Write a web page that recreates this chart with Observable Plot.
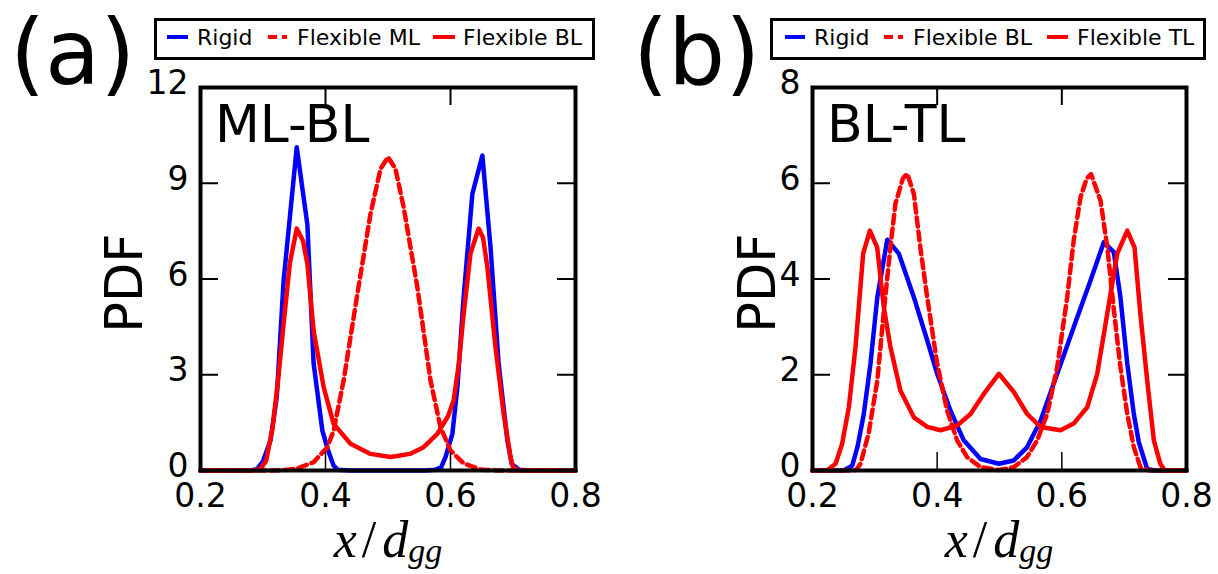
<!DOCTYPE html>
<html><head><meta charset="utf-8">
<script src="https://cdn.jsdelivr.net/npm/d3@7"></script>
<script src="https://cdn.jsdelivr.net/npm/@observablehq/plot@0.6"></script>
<style>
html,body{margin:0;padding:0;background:#fff;}
#root{position:relative;width:1218px;height:574px;overflow:hidden;font-family:"DejaVu Sans",sans-serif;}
#root svg{position:absolute;overflow:visible;}
</style></head><body><div id="root"></div>
<script>
// ---------- data ----------
const xTicks = [0.2, 0.4, 0.6, 0.8];
const xInnerTicks = [0.4, 0.6];
const yTicksA = [0, 3, 6, 9, 12];
const yTicksB = [0, 2, 4, 6, 8];
const panelLetters = ["(a)", "(b)"];
const panelTitles = ["ML-BL", "BL-TL"];
const legendA = ["Rigid", "Flexible ML", "Flexible BL"];
const legendB = ["Rigid", "Flexible BL", "Flexible TL"];
const yLabel = "PDF";

// panel (a): [x/d_gg, PDF]
const aRigid = [[0.2,0],[0.28,0],[0.291,0.05],[0.30,0.3],[0.312,0.94],[0.322,2.3],[0.333,5.95],[0.354,10.13],[0.371,7.7],[0.381,3.35],[0.395,1.25],[0.403,0.7],[0.413,0.15],[0.42,0.02],[0.44,0],[0.56,0],[0.575,0.02],[0.585,0.1],[0.592,0.42],[0.603,1.15],[0.611,2.6],[0.621,5.43],[0.635,8.67],[0.651,9.87],[0.664,7.0],[0.677,3.35],[0.691,0.94],[0.698,0.2],[0.71,0.02],[0.73,0],[0.8,0]];
const aFlexML = [[0.2,0],[0.31,0],[0.33,0.01],[0.354,0.06],[0.381,0.26],[0.403,0.73],[0.413,1.25],[0.429,2.82],[0.451,5.53],[0.472,8.04],[0.488,9.45],[0.50,9.82],[0.512,9.45],[0.525,8.25],[0.547,5.74],[0.568,2.82],[0.584,1.36],[0.60,0.63],[0.621,0.22],[0.65,0.02],[0.68,0],[0.8,0]];
const aFlexBL = [[0.2,0],[0.285,0],[0.296,0.05],[0.305,0.3],[0.315,1.3],[0.324,2.8],[0.333,4.6],[0.343,6.5],[0.354,7.58],[0.364,7.2],[0.371,6.47],[0.381,4.38],[0.397,2.61],[0.413,1.46],[0.44,0.84],[0.472,0.52],[0.504,0.42],[0.535,0.52],[0.557,0.73],[0.579,1.15],[0.596,1.7],[0.605,2.19],[0.613,3.3],[0.621,4.9],[0.632,6.8],[0.645,7.58],[0.652,7.3],[0.659,6.37],[0.672,3.86],[0.685,1.78],[0.696,0.42],[0.70,0.1],[0.71,0],[0.8,0]];

// panel (b)
const bRigid = [[0.2,0],[0.25,0],[0.2637,0.1],[0.2723,0.5],[0.2823,1.18],[0.293,2.23],[0.304,3.62],[0.320,4.82],[0.3385,4.53],[0.3626,3.62],[0.384,2.72],[0.400,2.02],[0.4214,1.25],[0.4427,0.63],[0.4695,0.24],[0.499,0.14],[0.523,0.21],[0.5444,0.49],[0.5658,1.04],[0.5926,2.02],[0.619,2.99],[0.646,3.97],[0.6674,4.77],[0.6834,4.56],[0.694,3.62],[0.705,2.23],[0.7155,1.18],[0.7235,0.59],[0.737,0.03],[0.75,0],[0.8,0]];
const bFlexBL = [[0.2,0],[0.26,0],[0.27,0.01],[0.277,0.14],[0.29,0.77],[0.304,1.88],[0.314,3.27],[0.325,4.66],[0.333,5.57],[0.345,6.1],[0.352,6.2],[0.3626,5.78],[0.373,4.66],[0.384,3.62],[0.400,2.23],[0.416,1.25],[0.432,0.63],[0.448,0.28],[0.4695,0.07],[0.5,0.01],[0.523,0.07],[0.544,0.28],[0.5605,0.63],[0.5765,1.18],[0.5926,2.16],[0.6086,3.62],[0.619,4.8],[0.630,5.71],[0.64,6.1],[0.647,6.19],[0.662,5.64],[0.673,4.66],[0.683,3.41],[0.694,2.16],[0.705,1.18],[0.7155,0.49],[0.726,0.07],[0.74,0],[0.8,0]];
const bFlexTL = [[0.2,0],[0.223,0],[0.237,0.14],[0.2476,0.56],[0.2583,1.32],[0.269,2.58],[0.2813,4.53],[0.292,5.01],[0.3038,4.66],[0.3144,3.41],[0.325,2.58],[0.341,1.67],[0.3626,1.11],[0.384,0.91],[0.4054,0.84],[0.432,0.94],[0.4535,1.18],[0.4748,1.6],[0.499,2.02],[0.523,1.64],[0.5444,1.18],[0.5658,0.91],[0.598,0.84],[0.619,0.98],[0.6407,1.32],[0.6568,2.02],[0.6728,3.27],[0.6889,4.53],[0.705,5.01],[0.7166,4.66],[0.726,3.27],[0.737,1.88],[0.7476,0.63],[0.758,0.14],[0.765,0],[0.8,0]];

// ---------- styles / layout ----------
const BLUE = "#0000ff", RED = "#ff0000";
const DASH = "9,5";
const root = document.getElementById("root");

function makePanel(opts) {
  const W = 609, H = 574, mt = 87, mb = 104, tick = 18;
  const fw = W - opts.ml - opts.mr, fh = H - mt - mb;
  const inner = opts.yTicks.slice(1, -1);
  const svg = Plot.plot({
    width: W, height: H,
    marginLeft: opts.ml, marginRight: opts.mr, marginTop: mt, marginBottom: mb,
    style: {background: "transparent", color: "black", fontFamily: "DejaVu Sans", fontSize: "33px", overflow: "visible"},
    x: {domain: [0.2, 0.8]},
    y: {domain: [opts.yTicks[0], opts.yTicks[opts.yTicks.length - 1]]},
    marks: [
      ...opts.series.map(s => Plot.line(s.data, {x: d => d[0], y: d => d[1], stroke: s.color, strokeWidth: 4.5, strokeDasharray: s.dash, strokeLinejoin: "round"})),
      Plot.tickX(xInnerTicks, {x: d => d, insetTop: fh - tick, stroke: "black", strokeWidth: 1.5}),
      Plot.tickX(xInnerTicks, {x: d => d, insetBottom: fh - tick, stroke: "black", strokeWidth: 2}),
      Plot.tickY(inner, {y: d => d, insetRight: fw - tick, stroke: "black", strokeWidth: 2}),
      Plot.tickY(inner, {y: d => d, insetLeft: fw - tick, stroke: "black", strokeWidth: 2}),
      Plot.axisX(xTicks, {tickSize: 0, tickPadding: 13, tickFormat: d3.format(".1f"), fontSize: 33, label: null}),
      Plot.axisY(opts.yTicks, {tickSize: 0, tickPadding: 12, fontSize: 33, dy: -4, label: null}),
      Plot.frame({stroke: "black", strokeWidth: 4})
    ]
  });
  svg.style.left = opts.left + "px";
  svg.style.top = "0px";
  root.appendChild(svg);
}

makePanel({left: 0, ml: 200, mr: 34, yTicks: yTicksA, series: [
  {data: aRigid, color: BLUE}, {data: aFlexML, color: RED, dash: DASH}, {data: aFlexBL, color: RED}]});
makePanel({left: 609, ml: 203, mr: 32, yTicks: yTicksB, series: [
  {data: bRigid, color: BLUE}, {data: bFlexBL, color: RED, dash: DASH}, {data: bFlexTL, color: RED}]});

// ---------- overlay text & legends ----------
const ov = d3.select(root).append("svg").attr("width", 1218).attr("height", 574).style("left", "0px").style("top", "0px");
const layout = [
  {letterX: 10, titleX: 215, pdfX: 124, xlabX: 388, box: [154, 595],
   legend: legendA, items: [{s: [167, 188], t: 197, c: BLUE}, {s: [268, 287], t: 297, c: RED, dash: DASH}, {s: [433, 455], t: 463, c: RED}]},
  {letterX: 633, titleX: 827, pdfX: 757, xlabX: 999, box: [770, 1206],
   legend: legendB, items: [{s: [785, 805], t: 814, c: BLUE}, {s: [884, 903], t: 913, c: RED, dash: DASH}, {s: [1047, 1068], t: 1077, c: RED}]}
];
layout.forEach((p, i) => {
  ov.append("text").attr("x", p.letterX).attr("y", 84).attr("font-family", "DejaVu Sans").attr("font-size", 90).text(panelLetters[i]);
  ov.append("text").attr("x", p.titleX).attr("y", 142).attr("font-family", "DejaVu Sans").attr("font-size", 52).text(panelTitles[i]);
  ov.append("text").attr("transform", `translate(${p.pdfX},283) rotate(-90)`).attr("text-anchor", "middle").attr("dominant-baseline", "central")
    .attr("font-family", "DejaVu Sans").attr("font-size", 51).text(yLabel);
  const xl = ov.append("text").attr("x", p.xlabX).attr("y", 557).attr("text-anchor", "middle")
    .attr("font-family", "Liberation Serif").attr("font-size", 52);
  xl.append("tspan").attr("font-style", "italic").text("x");
  xl.append("tspan").attr("dx", 5).text("/");
  xl.append("tspan").attr("dx", 6).attr("font-style", "italic").text("d");
  xl.append("tspan").attr("dy", 5).attr("font-size", 34).attr("font-style", "italic").text("gg");
  // legend
  ov.append("rect").attr("x", p.box[0] + 1.5).attr("y", 19.5).attr("width", p.box[1] - p.box[0] - 3).attr("height", 39)
    .attr("fill", "white").attr("stroke", "black").attr("stroke-width", 3);
  p.items.forEach((it, j) => {
    ov.append("line").attr("x1", it.s[0]).attr("x2", it.s[1]).attr("y1", 37).attr("y2", 37)
      .attr("stroke", it.c).attr("stroke-width", 4).attr("stroke-dasharray", it.dash || null);
    ov.append("text").attr("x", it.t).attr("y", 44.5).attr("font-family", "DejaVu Sans").attr("font-size", 22).text(p.legend[j]);
  });
});
</script></body></html>
